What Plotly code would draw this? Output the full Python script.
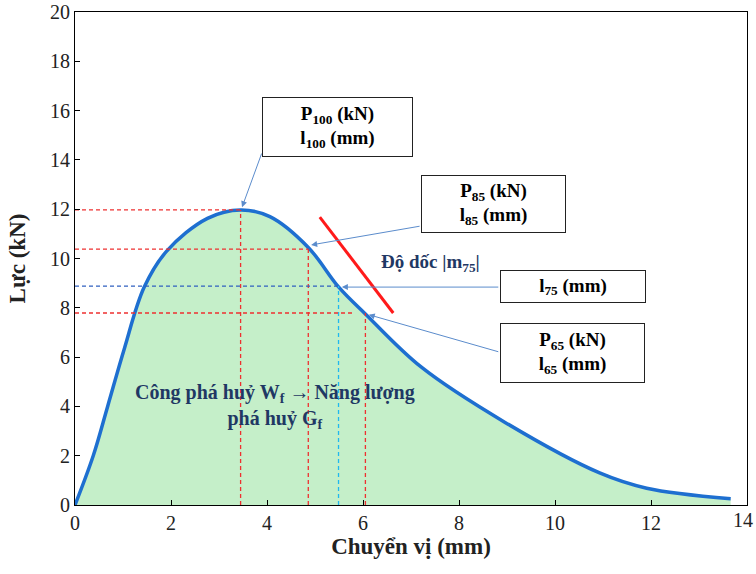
import plotly.graph_objects as go

# Curve data (displacement mm, force kN)
disp = [0, 0.38, 0.68, 1.02, 1.44, 1.91, 2.76, 3.45, 4.06, 4.86, 5.49, 6.05, 7.21, 8.96, 10.93, 11.91, 13.66]
force = [0, 2.0, 4.0, 6.29, 8.83, 10.3, 11.63, 11.97, 11.7, 10.45, 8.85, 7.75, 5.6, 3.35, 1.3, 0.68, 0.25]

# Key points
p100 = (3.45, 11.97)
p85 = (4.86, 10.38)
p75 = (5.49, 8.88)
p65 = (6.05, 7.79)
slope_line_x = [5.1, 6.63]
slope_line_y = [11.68, 7.79]

x_ticks = [0, 2, 4, 6, 8, 10, 12]
x_last_tick = 14
y_ticks = [0, 2, 4, 6, 8, 10, 12, 14, 16, 18, 20]

SERIF = "Times New Roman, serif"
NAVY = "#1f3864"
ARROW = "#5b8ccc"

fig = go.Figure()
fig.add_trace(go.Scatter(x=disp, y=force, mode="lines", fill="tozeroy",
                         fillcolor="rgb(197,239,201)",
                         line=dict(color="#1e6fd0", width=3.5, shape="spline", smoothing=1.0),
                         showlegend=False, hoverinfo="skip"))

def dashed(xs, ys, color):
    fig.add_trace(go.Scatter(x=xs, y=ys, mode="lines", showlegend=False, hoverinfo="skip",
                             line=dict(color=color, width=1.3, dash="4px,3px")))

# guide lines
dashed([0, p100[0]], [p100[1], p100[1]], "#ee3030")
dashed([p100[0], p100[0]], [0, p100[1]], "#ee3030")
dashed([0, p85[0]], [p85[1], p85[1]], "#ee3030")
dashed([p85[0], p85[0]], [0, p85[1]], "#ee3030")
dashed([0, p75[0]], [p75[1], p75[1]], "#3060c0")
dashed([p75[0], p75[0]], [0, p75[1]], "#20b8f0")
dashed([0, 5.8], [p65[1], p65[1]], "#ee3030")
dashed([p65[0], p65[0]], [0, p65[1]], "#ee3030")

fig.add_trace(go.Scatter(x=slope_line_x, y=slope_line_y, mode="lines", showlegend=False,
                         hoverinfo="skip", line=dict(color="#ff1a1a", width=3)))

annotations = []

def box(x, y, text, w, h):
    annotations.append(dict(x=x, y=y, xref="x", yref="y", text=text, showarrow=False,
                            width=w, height=h, bgcolor="white", bordercolor="#222",
                            borderwidth=1, borderpad=0,
                            font=dict(family=SERIF, size=19, color="black")))

def arrow(tail, head):
    annotations.append(dict(x=head[0], y=head[1], ax=tail[0], ay=tail[1], xref="x", yref="y",
                            axref="x", ayref="y", text="", showarrow=True, arrowhead=2,
                            arrowsize=1.2, arrowwidth=1, arrowcolor=ARROW))

arrow((3.9, 14.32), (3.48, 12.08))
arrow((7.21, 11.32), (4.92, 10.55))
arrow((8.85, 8.84), (5.56, 8.84))
arrow((8.85, 6.2), (6.12, 7.72))

box(5.47, 15.33, "<b>P<sub>100</sub> (kN)<br>l<sub>100</sub> (mm)</b>", 149, 58)
box(8.72, 12.21, "<b>P<sub>85</sub> (kN)<br>l<sub>85</sub> (mm)</b>", 143, 56)
box(10.375, 8.86, "<b>l<sub>75</sub> (mm)</b>", 144, 31)
box(10.36, 6.17, "<b>P<sub>65</sub> (kN)<br>l<sub>65</sub> (mm)</b>", 143, 58)

annotations.append(dict(x=7.4, y=9.82, xref="x", yref="y", showarrow=False,
                        text="<b>Độ dốc |m<sub>75</sub>|</b>",
                        font=dict(family=SERIF, size=19, color=NAVY)))
annotations.append(dict(x=4.17, y=4.0, xref="x", yref="y", showarrow=False,
                        text="<b>Công phá huỷ W<sub>f</sub> → Năng lượng<br>phá huỷ G<sub>f</sub></b>",
                        font=dict(family=SERIF, size=20, color=NAVY)))
# last x tick label at the right frame edge (paper x = 1 is x = 14), kept inside the page
annotations.append(dict(x=1.0, y=0, xref="paper", yref="paper", xanchor="right", yanchor="top",
                        xshift=8, yshift=-2, showarrow=False, text=str(x_last_tick),
                        font=dict(family=SERIF, size=20, color="#222")))

fig.update_layout(
    width=756, height=574,
    margin=dict(l=75, r=9, t=12, b=69, autoexpand=False),
    paper_bgcolor="white", plot_bgcolor="white",
    font=dict(family=SERIF),
    annotations=annotations,
    xaxis=dict(range=[0, 14], tickvals=x_ticks, showgrid=False, zeroline=False,
               automargin=False,
               showline=True, linecolor="black", linewidth=1, mirror=True,
               ticks="inside", ticklen=5, tickcolor="black",
               tickfont=dict(family=SERIF, size=20, color="#222"),
               title=dict(text="<b>Chuyển vị (mm)</b>", standoff=4,
                          font=dict(family=SERIF, size=23, color="#222"))),
    yaxis=dict(range=[0, 20], tickvals=y_ticks, showgrid=False, zeroline=False,
               automargin=False,
               showline=True, linecolor="black", linewidth=1, mirror=True,
               ticks="inside", ticklen=5, tickcolor="black",
               tickfont=dict(family=SERIF, size=20, color="#222"),
               title=dict(text="<b>Lực (kN)</b>", standoff=17,
                          font=dict(family=SERIF, size=23, color="#222"))),
)

fig.write_html("out.html", config={"displayModeBar": False},
               post_script="document.body.style.margin='0';document.body.style.overflow='hidden';")
